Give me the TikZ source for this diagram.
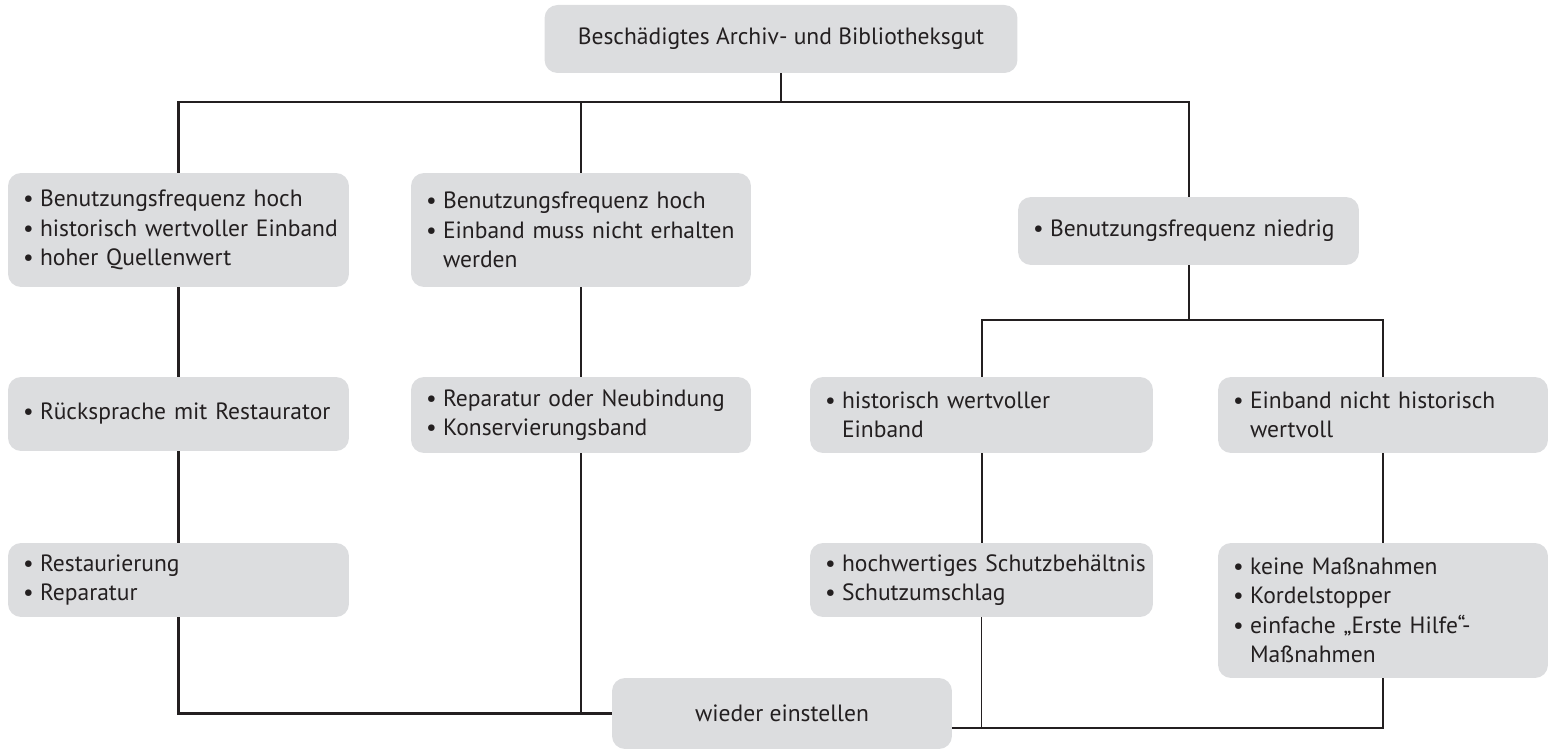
\documentclass[tikz,border=0pt]{standalone}
\usepackage{fontspec}
\setmainfont{PT Sans}
\usetikzlibrary{positioning}

\definecolor{boxgray}{HTML}{DCDDDF}
\definecolor{inkgray}{HTML}{231F20}

\newcommand{\bitem}{\hspace*{0.2cm}\makebox[0.34cm][l]{\textbullet}}
\newcommand{\bcont}{\hspace*{0.54cm}}

\tikzset{
  box/.style={rectangle, fill=boxgray, rounded corners=0.26cm, text=inkgray,
    font=\fontsize{13.4}{16.8}\selectfont, inner ysep=2pt},
  listbox/.style={box, align=left, inner xsep=0.1cm, text width=#1},
  link/.style={draw=inkgray, line width=1.15pt},
  thinlink/.style={draw=inkgray, line width=0.6pt}
}

\begin{document}
\begin{tikzpicture}[x=0.02cm, y=-0.02cm]
    \useasboundingbox (0,0) rectangle (1551,749);

    % Define boxes
    \node[box, minimum width=9.46cm, minimum height=1.36cm] (top) at (781,39) {Beschädigtes Archiv- und Bibliotheksgut};

    \node[listbox=6.62cm, minimum height=2.28cm] (hochA) at (178.5,230)
      {\bitem Benutzungsfrequenz hoch\\\bitem historisch wertvoller Einband\\\bitem hoher Quellenwert};
    \node[listbox=6.6cm, minimum height=2.28cm] (hochB) at (581,230)
      {\bitem Benutzungsfrequenz hoch\\\bitem Einband muss nicht erhalten\\\bcont werden};
    \node[listbox=6.62cm, minimum height=1.36cm] (niedrig) at (1188.5,231)
      {\bitem Benutzungsfrequenz niedrig};

    \node[listbox=6.62cm, minimum height=1.48cm] (ruecksprache) at (178.5,414)
      {\bitem Rücksprache mit Restaurator};
    \node[listbox=6.6cm, minimum height=1.52cm] (reparatur) at (581,415)
      {\bitem Reparatur oder Neubindung\\\bitem Konservierungsband};
    \node[listbox=6.66cm, minimum height=1.52cm] (wertvoll) at (981.5,415)
      {\bitem historisch wertvoller\\\bcont Einband};
    \node[listbox=6.4cm, minimum height=1.52cm] (nichtwertvoll) at (1383,415)
      {\bitem Einband nicht historisch\\\bcont wertvoll};

    \node[listbox=6.62cm, minimum height=1.48cm] (restaurierung) at (178.5,580)
      {\bitem Restaurierung\\\bitem Reparatur};
    \node[listbox=6.66cm, minimum height=1.48cm] (schutz) at (981.5,580)
      {\bitem hochwertiges Schutzbehältnis\\\bitem Schutzumschlag};
    \node[listbox=6.4cm, minimum height=2.7cm] (keine) at (1383,610.5)
      {\bitem keine Maßnahmen\\\bitem Kordelstopper\\\bitem einfache „Erste Hilfe“-\\\bcont Maßnahmen};

    \node[box, minimum width=6.8cm, minimum height=1.42cm] (einstellen) at (782,713.5) {wieder einstellen};

    % Draw connectors
    \coordinate (split) at (781,102);
    \coordinate (splitR) at (1188.5,320);
    \draw[link] (top.south) -- (split);
    \draw[link] (hochA.north) -- (hochA.north |- split) -- (niedrig.north |- split) -- (niedrig.north);
    \draw[link] (hochB.north) -- (hochB.north |- split);
    \draw[link] (niedrig.south) -- (splitR);
    \draw[link] (wertvoll.north) -- (wertvoll.north |- splitR) -- (nichtwertvoll.north |- splitR) -- (nichtwertvoll.north);

    \draw[link] (hochA) -- (ruecksprache);
    \draw[link] (ruecksprache) -- (restaurierung);
    \draw[link] (hochB) -- (reparatur);
    \draw[link] (wertvoll) -- (schutz);
    \draw[link] (nichtwertvoll) -- (keine);

    \coordinate (joinR) at ([yshift=-0.29cm]einstellen.east);
    \draw[link] (restaurierung.south) |- (einstellen.west);
    \draw[link] (reparatur.south) -- (reparatur.south |- einstellen.west);
    \draw[link] (keine.south) |- (joinR);
    \draw[thinlink] (schutz.south) -- (schutz.south |- joinR);
\end{tikzpicture}
\end{document}
